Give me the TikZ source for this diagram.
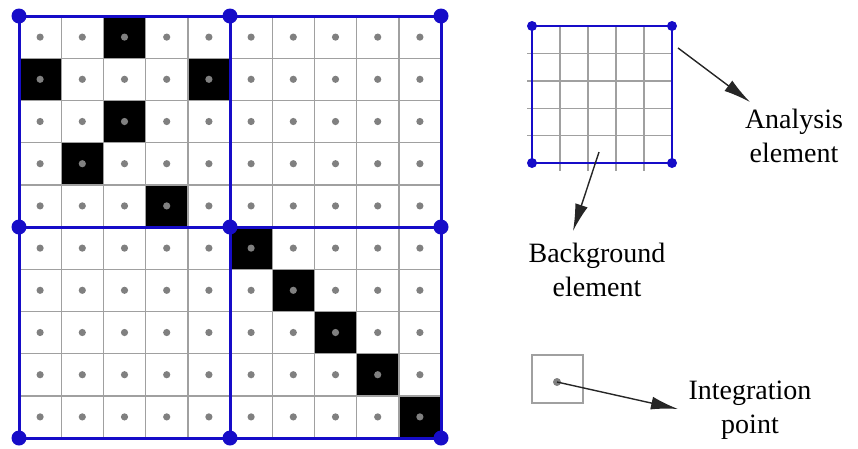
\documentclass[tikz,border=0pt]{standalone}
\usepackage{fontspec}
\setmainfont{Liberation Serif}
\usetikzlibrary{arrows.meta}
\definecolor{eblue}{RGB}{22,12,200}
\definecolor{gline}{RGB}{160,160,160}
\definecolor{gdot}{RGB}{128,128,128}
\begin{document}
\begin{tikzpicture}[x=1pt,y=-1pt,
  gridline/.style={draw=gline,line width=1.4pt},
  bgdot/.style={fill=gdot},
  blueline/.style={draw=eblue,line width=3pt},
  bluedot/.style={fill=eblue},
  arr/.style={draw=black!85,line width=1.4pt,-{Latex[length=27pt,width=13pt]}},
  lbl/.style={align=center,inner sep=0pt,font=\fontsize{28}{34}\selectfont}]
\useasboundingbox (0,0) rectangle (858,448);
% ---------- left mesh ----------
\def\cs{42.2}
\foreach \r/\c in {0/2,1/0,1/4,2/2,3/1,4/3,5/5,6/6,7/7,8/8,9/9}
  \fill[black] (19+\c*\cs,16+\r*\cs) rectangle ++(\cs,\cs);
\foreach \i in {1,...,9}{
  \draw[gridline] (19+\i*\cs,16) -- (19+\i*\cs,438);
  \draw[gridline] (19,16+\i*\cs) -- (441,16+\i*\cs);
}
\foreach \i in {0,...,9}
  \foreach \j in {0,...,9}
    \fill[bgdot] (19+\i*\cs+0.5*\cs,16+\j*\cs+0.5*\cs) circle (3.6);
\draw[blueline] (19,16) rectangle (441,438);
\draw[blueline] (230,16) -- (230,438);
\draw[blueline] (19,227) -- (441,227);
\foreach \x in {19,230,441}
  \foreach \y in {16,227,438}
    \fill[bluedot] (\x,\y) circle (7.5);
% ---------- analysis element ----------
\foreach \i in {1,...,4}{
  \draw[gridline] (532+\i*28,26) -- (532+\i*28,171);
  \draw[gridline] (527,26+\i*27.4) -- (672,26+\i*27.4);
}
\draw[blueline,line width=2.6pt] (532,26) rectangle (672,163);
\foreach \x in {532,672}
  \foreach \y in {26,163}
    \fill[bluedot] (\x,\y) circle (5);
% ---------- integration point ----------
\draw[gridline] (532,355) rectangle (583,403);
\fill[bgdot] (557,382) circle (4);
% ---------- labels and arrows ----------
\node[lbl] (ae) at (794,136) {Analysis\\element};
\node[lbl] (be) at (597,270) {Background\\element};
\node[lbl] (ip) at (750,410) {Integration\\point};
\coordinate (aeS) at (678,48);
\coordinate (aeT) at (750,102);
\coordinate (beS) at (599,152);
\coordinate (beT) at (573,231);
\coordinate (ipS) at (557,382);
\coordinate (ipT) at (678,409);
\draw[arr] (aeS) -- (aeT);
\draw[arr] (beS) -- (beT);
\draw[arr] (ipS) -- (ipT);
\end{tikzpicture}
\end{document}
